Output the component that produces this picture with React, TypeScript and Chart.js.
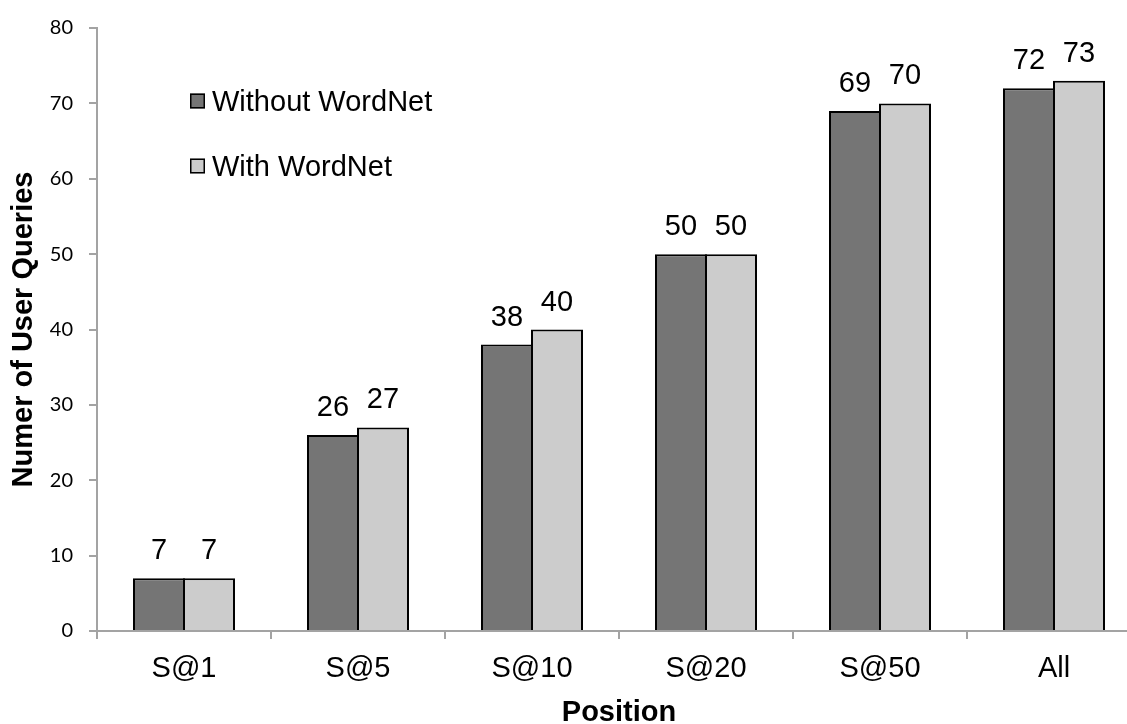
import React, { useEffect, useRef } from "react";
import { Chart, registerables } from "chart.js";

Chart.register(...registerables);

// ---- data ----
const categories = ["S@1", "S@5", "S@10", "S@20", "S@50", "All"];
const withoutWordNet = [7, 26, 38, 50, 69, 72];
const withWordNet = [7, 27, 40, 50, 70, 73];
const seriesLabels = ["Without WordNet", "With WordNet"];
const yMin = 0;
const yMax = 80;
const yStep = 10;
const xTitle = "Position";
const yTitle = "Numer of User Queries";

// ---- styles ----
const ARIAL = "'Liberation Sans', Arial, sans-serif";
const TICK_FONT = "Lato, 'Open Sans', sans-serif";
const AXIS = "#a3a3a3";
const DARK = "#757575";
const LIGHT = "#cccccc";

const valueLabels = {
  id: "valueLabels",
  afterDatasetsDraw(chart: any) {
    const ctx = chart.ctx;
    ctx.save();
    ctx.font = `29px ${ARIAL}`;
    ctx.fillStyle = "#000";
    ctx.textAlign = "center";
    ctx.textBaseline = "alphabetic";
    chart.data.datasets.forEach((ds: any, i: number) => {
      const meta = chart.getDatasetMeta(i);
      meta.data.forEach((el: any, j: number) => {
        ctx.fillText(String(ds.data[j]), el.x, el.y - 19);
      });
    });
    ctx.restore();
  },
};

const insetLegend = {
  id: "insetLegend",
  afterDraw(chart: any) {
    const ctx = chart.ctx;
    const boxX = 190;
    const firstY = 101;
    const rowGap = 65;
    const box = 15;
    ctx.save();
    ctx.font = `29px ${ARIAL}`;
    ctx.textAlign = "left";
    ctx.textBaseline = "middle";
    chart.data.datasets.forEach((ds: any, i: number) => {
      const cy = firstY + i * rowGap;
      ctx.fillStyle = ds.backgroundColor;
      ctx.fillRect(boxX, cy - box / 2, box, box);
      ctx.strokeStyle = "#000";
      ctx.lineWidth = 1.5;
      ctx.strokeRect(boxX + 0.75, cy - box / 2 + 0.75, box - 1.5, box - 1.5);
      ctx.fillStyle = "#000";
      ctx.fillText(ds.label, boxX + box + 7, cy + 2);
    });
    ctx.restore();
  },
};

export default function App() {
  const ref = useRef<HTMLCanvasElement>(null);

  useEffect(() => {
    if (!ref.current) return;
    const chart = new Chart(ref.current, {
      type: "bar",
      data: {
        labels: categories,
        datasets: [
          {
            label: seriesLabels[0],
            data: withoutWordNet,
            backgroundColor: DARK,
            borderColor: "#000",
            borderWidth: 2,
            categoryPercentage: 100 / 174,
            barPercentage: 1.04,
          },
          {
            label: seriesLabels[1],
            data: withWordNet,
            backgroundColor: LIGHT,
            borderColor: "#000",
            borderWidth: 2,
            categoryPercentage: 100 / 174,
            barPercentage: 1.04,
          },
        ],
      },
      options: {
        responsive: false,
        animation: false,
        layout: { padding: { top: 23, right: 19, bottom: 0, left: 0 } },
        plugins: {
          legend: { display: false },
          tooltip: { enabled: false },
        },
        scales: {
          x: {
            grid: {
              display: true,
              drawOnChartArea: false,
              drawTicks: true,
              tickLength: 8,
              color: AXIS,
              lineWidth: 2,
              offset: true,
            },
            border: { display: true, color: AXIS, width: 2 },
            ticks: {
              color: "#000",
              font: { family: ARIAL, size: 29 },
              padding: 13,
              maxRotation: 0,
              autoSkip: false,
            },
            title: {
              display: true,
              text: xTitle,
              color: "#000",
              font: { family: ARIAL, size: 29, weight: "bold", lineHeight: 0.76 },
              padding: { top: 0, bottom: 0 },
            },
            afterFit: (s: any) => {
              s.height = 93;
            },
          },
          y: {
            min: yMin,
            max: yMax,
            grid: {
              display: true,
              drawOnChartArea: false,
              drawTicks: true,
              tickLength: 8,
              color: AXIS,
              lineWidth: 2,
            },
            border: { display: true, color: AXIS, width: 2 },
            ticks: {
              stepSize: yStep,
              color: "#000",
              font: { family: TICK_FONT, size: 20 },
              padding: 16,
            },
            title: {
              display: true,
              text: yTitle,
              color: "#000",
              font: { family: ARIAL, size: 29, weight: "bold" },
              padding: { top: 7, bottom: 0 },
            },
            afterFit: (s: any) => {
              s.width = 97;
            },
          },
        },
      } as any,
      plugins: [valueLabels, insetLegend],
    });
    return () => chart.destroy();
  }, []);

  return (
    <div
      style={{
        position: "fixed",
        left: 0,
        top: 0,
        width: 1127,
        height: 724,
        overflow: "hidden",
        background: "#fff",
      }}
    >
      <canvas ref={ref} width={1160} height={724} style={{ display: "block" }} />
    </div>
  );
}
